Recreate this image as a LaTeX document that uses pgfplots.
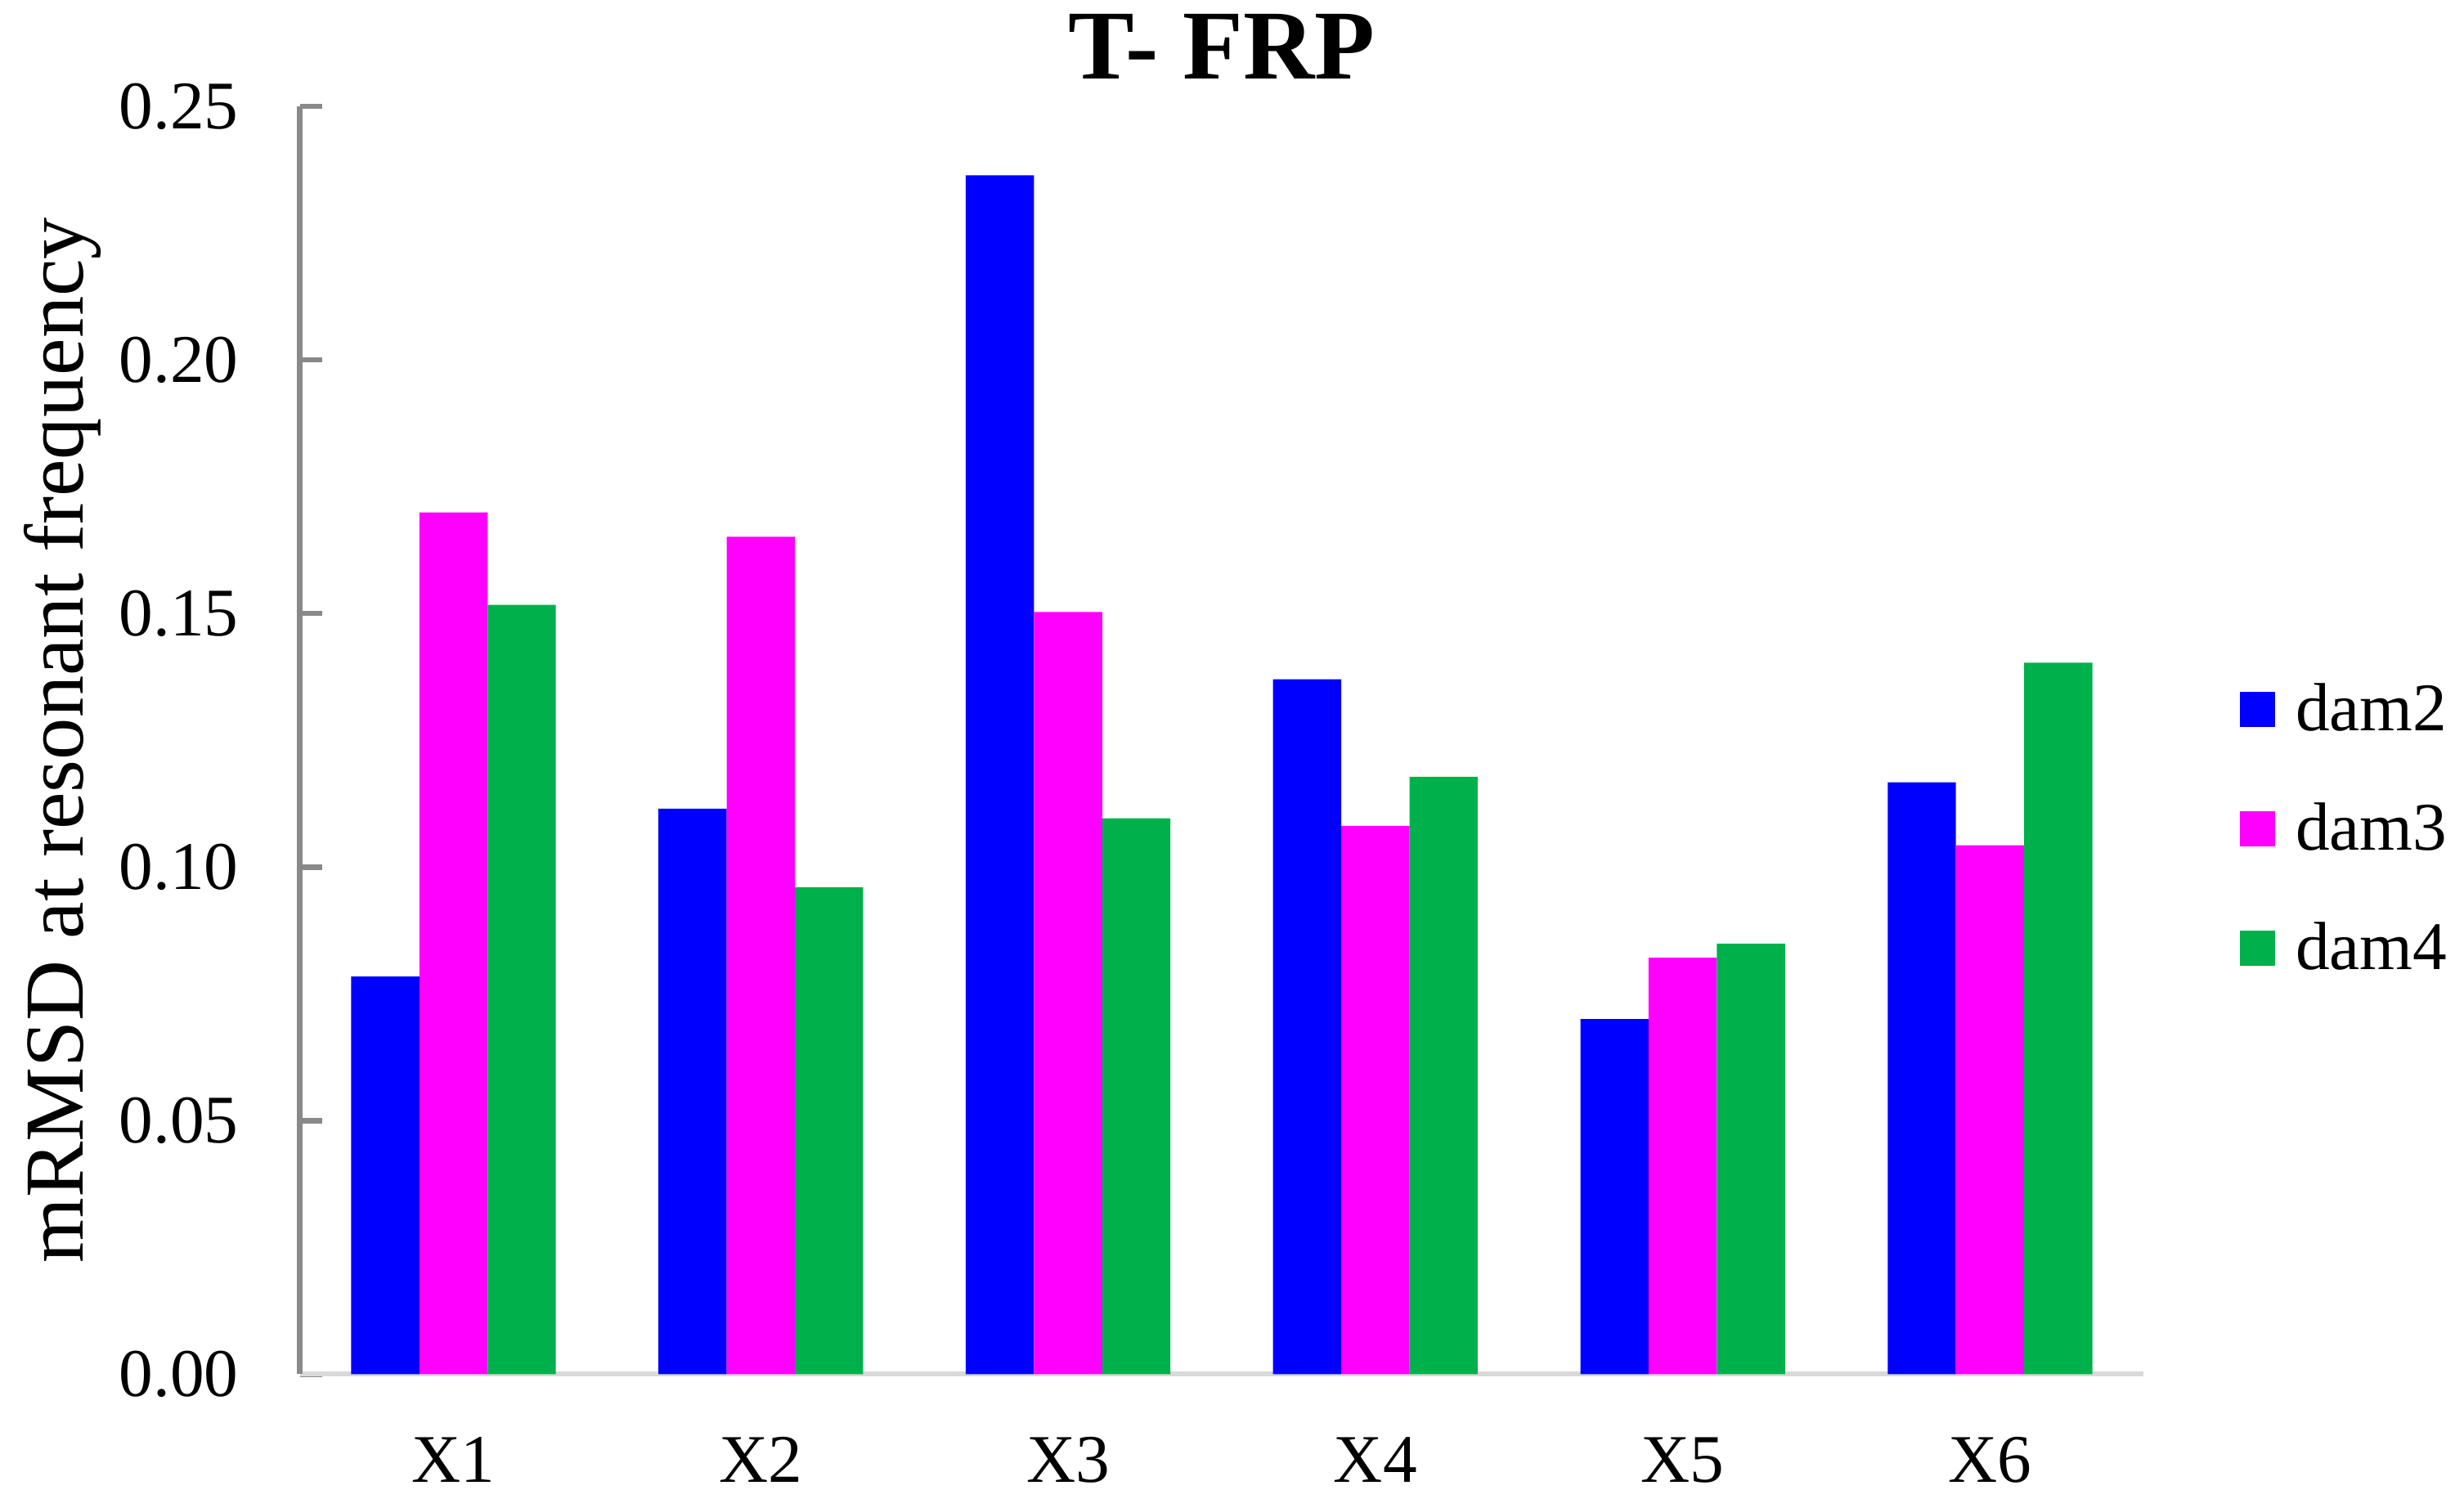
\documentclass[border=0pt]{standalone}
\usepackage{pgfplots}
\pgfplotsset{compat=1.18}
\usepackage{fontspec}
\setmainfont{Liberation Serif}

\definecolor{cdam2}{HTML}{0000FF}
\definecolor{cdam3}{HTML}{FF00FF}
\definecolor{cdam4}{HTML}{00B04A}
\definecolor{axgray}{HTML}{898989}
\definecolor{xgray}{HTML}{D9D9D9}

\pgfplotsset{
  sqlegend/.style={legend image code/.code={\fill[##1] (0pt,-5.15pt) rectangle (10.3pt,5.15pt);}},
}

\begin{document}
\begin{tikzpicture}
\path[use as bounding box] (-88pt,-36.5pt) rectangle (635pt,403.2pt);
\begin{axis}[
  at={(0pt,0pt)}, anchor=south west,
  scale only axis, width=541pt, height=372pt,
  ybar=0pt, bar width=0.222,
  xmin=-0.5, xmax=5.5, ymin=0, ymax=0.25,
  axis x line*=bottom, axis y line*=left,
  x axis line style={draw=xgray, line width=1.4pt},
  y axis line style={draw=axgray, line width=1.6pt},
  xtick={0,1,2,3,4,5}, xticklabels={X1,X2,X3,X4,X5,X6},
  major x tick style={draw=none},
  ytick={0,0.05,0.10,0.15,0.20,0.25},
  major y tick style={draw=axgray, line width=1.6pt},
  tick align=inside, major tick length=6.5pt,
  /pgf/number format/assume math mode=true,
  yticklabel style={/pgf/number format/fixed, /pgf/number format/fixed zerofill,
    /pgf/number format/precision=2, font=\fontsize{20}{24}\selectfont, xshift=-14.5pt},
  xticklabel style={font=\fontsize{20}{24}\selectfont, anchor=base, yshift=-31.7pt},
  ylabel={mRMSD at resonant frequency},
  ylabel style={at={(axis description cs:-0.1287,0.5)}, anchor=center,
    font=\fontsize{24.6}{28}\selectfont},
  title={T- FRP},
  title style={at={(axis description cs:0.5,1)}, anchor=base, yshift=2pt,
    font=\bfseries\fontsize{29}{34}\selectfont},
  legend style={at={(axis description cs:1.052,0.43)}, anchor=west, draw=none, fill=none,
    inner sep=0pt, row sep=19.6pt, font=\fontsize{20}{24}\selectfont,
    nodes={inner sep=0pt}},
  /tikz/every odd column/.append style={column sep=6pt},
  legend cell align=left,
]
\addplot[fill=cdam2, draw=none, sqlegend] coordinates {
  (0,0.0784) (1,0.1115) (2,0.2364) (3,0.1370) (4,0.0700) (5,0.1167)};
\addlegendentry{dam2}
\addplot[fill=cdam3, draw=none, sqlegend] coordinates {
  (0,0.1699) (1,0.1651) (2,0.1503) (3,0.1081) (4,0.0821) (5,0.1043)};
\addlegendentry{dam3}
\addplot[fill=cdam4, draw=none, sqlegend] coordinates {
  (0,0.1517) (1,0.0960) (2,0.1096) (3,0.1178) (4,0.0849) (5,0.1403)};
\addlegendentry{dam4}
\end{axis}
\end{tikzpicture}
\end{document}
